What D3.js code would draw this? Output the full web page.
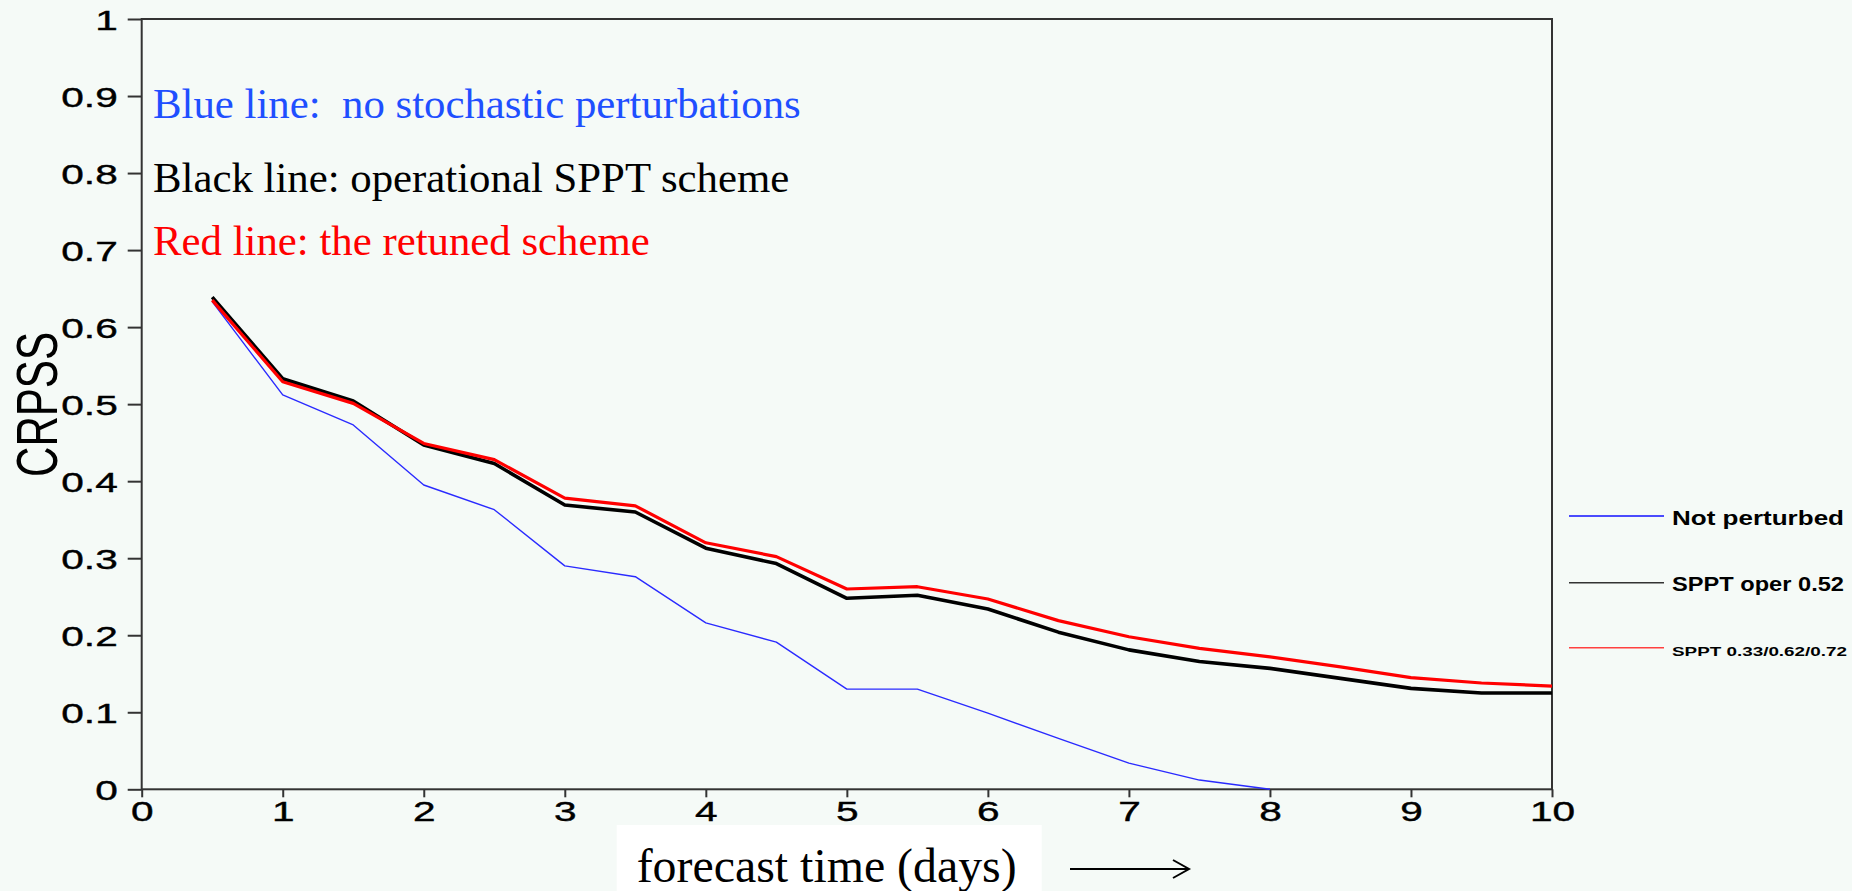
<!DOCTYPE html>
<html>
<head>
<meta charset="utf-8">
<script src="https://cdn.jsdelivr.net/npm/d3@7"></script>
<style>
  html, body { margin: 0; padding: 0; background: #f5faf7; }
  svg { display: block; }
  .tick text { font-family: "Liberation Sans", Arial, sans-serif; }
</style>
</head>
<body>
<script>
// forecast days (every 12h)
var days = [0.5, 1, 1.5, 2, 2.5, 3, 3.5, 4, 4.5, 5, 5.5, 6, 6.5, 7, 7.5, 8, 8.5, 9, 9.5, 10];

var notPerturbed = [0.633, 0.512, 0.473, 0.395, 0.363, 0.290, 0.276, 0.216, 0.191, 0.130,
                    0.130, 0.099, 0.066, 0.034, 0.012, 0.0];
var spptOper = [0.639, 0.533, 0.504, 0.447, 0.423, 0.369, 0.360, 0.313, 0.293, 0.248,
                0.252, 0.234, 0.204, 0.181, 0.166, 0.157, 0.144, 0.131, 0.125, 0.125];
var spptRetuned = [0.635, 0.529, 0.501, 0.449, 0.428, 0.378, 0.368, 0.320, 0.302, 0.260,
                   0.263, 0.247, 0.219, 0.198, 0.183, 0.172, 0.159, 0.145, 0.138, 0.134];

var seriesNames = ["Not perturbed", "SPPT oper 0.52", "SPPT 0.33/0.62/0.72"];
var notes = ["Blue line:  no stochastic perturbations",
             "Black line: operational SPPT scheme",
             "Red line: the retuned scheme"];
var xTicks = [0, 1, 2, 3, 4, 5, 6, 7, 8, 9, 10];
var yTicks = [0, 0.1, 0.2, 0.3, 0.4, 0.5, 0.6, 0.7, 0.8, 0.9, 1];

var canvas = {w: 1852, h: 891};

var svg = d3.select("body").append("svg")
    .attr("width", canvas.w)
    .attr("height", canvas.h);

svg.append("rect")
    .attr("width", canvas.w).attr("height", canvas.h)
    .attr("fill", "#f5faf7");

var x = d3.scaleLinear().domain([0, 10]).range([141.7, 1552]),
    y = d3.scaleLinear().domain([0, 1]).range([789.3, 19]);

// frame round the plot
svg.append("rect")
    .attr("x", x(0)).attr("y", y(1))
    .attr("width", x(10) - x(0)).attr("height", y(0) - y(1))
    .attr("fill", "none")
    .attr("stroke", "#333")
    .attr("stroke-width", 2);

// the tick labels are drawn wide in the original, stretch them
var stretch = 1.45;

var yAxis = svg.append("g")
    .attr("transform", "translate(" + x(0) + ",0)")
    .call(d3.axisLeft(y).tickValues(yTicks).tickSize(14).tickPadding(10)
          .tickFormat(function(d) { return d === 0 || d === 1 ? d3.format("d")(d) : d3.format(".1f")(d); }));
yAxis.select(".domain").remove();
yAxis.selectAll(".tick line").attr("stroke", "#333").attr("stroke-width", 2);
yAxis.selectAll(".tick text")
    .attr("font-size", 28)
    .attr("fill", "#000")
    .attr("stroke", "#000").attr("stroke-width", 0.4)
    .attr("dy", "0.36em")
    .attr("x", -24 / stretch)
    .attr("transform", "scale(" + stretch + ",1)");

var xAxis = svg.append("g")
    .attr("transform", "translate(0," + y(0) + ")")
    .call(d3.axisBottom(x).tickValues(xTicks).tickSize(8).tickPadding(4).tickFormat(d3.format("d")));
xAxis.select(".domain").remove();
xAxis.selectAll(".tick line").attr("stroke", "#333").attr("stroke-width", 2);
// text sits at x=0 inside each tick group, so scaling keeps it centred
xAxis.selectAll(".tick text")
    .attr("font-size", 28)
    .attr("fill", "#000")
    .attr("stroke", "#000").attr("stroke-width", 0.4)
    .attr("transform", "scale(" + stretch + ",1)");

// y axis title
svg.append("text")
    .attr("transform", "translate(57,404.5) rotate(-90)")
    .attr("text-anchor", "middle")
    .attr("font-family", "Liberation Sans, Arial, sans-serif")
    .attr("font-size", 58)
    .attr("textLength", 145)
    .attr("lengthAdjust", "spacingAndGlyphs")
    .text("CRPSS");

// lines
var line = d3.line()
    .x(function(d) { return x(d.day); })
    .y(function(d) { return y(d.v); });

function pairs(vals) {
    return vals.map(function(v, i) { return {day: days[i], v: v}; });
}

var series = [
    {name: seriesNames[0], values: pairs(notPerturbed), color: "#2a2aff", width: 1.4},
    {name: seriesNames[1], values: pairs(spptOper), color: "#000", width: 3.6},
    {name: seriesNames[2], values: pairs(spptRetuned), color: "#ff0000", width: 3.2}
];

svg.selectAll(".series")
    .data(series)
    .enter().append("path")
    .attr("class", "series")
    .attr("fill", "none")
    .attr("stroke", function(d) { return d.color; })
    .attr("stroke-width", function(d) { return d.width; })
    .attr("stroke-linejoin", "round")
    .attr("d", function(d) { return line(d.values); });

// annotation in the plot
var noteColors = ["#1f4fff", "#000", "#ff0000"],
    noteBase = [118.3, 191.7, 255];
svg.selectAll(".note")
    .data(notes)
    .enter().append("text")
    .attr("class", "note")
    .attr("x", 153)
    .attr("y", function(d, i) { return noteBase[i]; })
    .attr("fill", function(d, i) { return noteColors[i]; })
    .attr("font-family", "Liberation Serif, Times New Roman, serif")
    .attr("font-size", 42.8)
    .style("white-space", "pre")
    .text(function(d) { return d; });

// legend on the right
var legColors = ["#1010ff", "#333", "#ff4040"],
    legY = [516, 582.7, 647.7],
    legSize = [20, 20, 13.5],
    legLen = [172, 172, 175],
    legBase = [524.7, 591.3, 655.7];
var leg = svg.selectAll(".leg")
    .data(seriesNames)
    .enter().append("g")
    .attr("class", "leg");
leg.append("line")
    .attr("x1", 1569).attr("x2", 1664)
    .attr("y1", function(d, i) { return legY[i]; })
    .attr("y2", function(d, i) { return legY[i]; })
    .attr("stroke", function(d, i) { return legColors[i]; })
    .attr("stroke-width", 1.6);
leg.append("text")
    .attr("x", 1672)
    .attr("y", function(d, i) { return legBase[i]; })
    .attr("font-family", "Liberation Sans, Arial, sans-serif")
    .attr("font-weight", "bold")
    .attr("font-size", function(d, i) { return legSize[i]; })
    .attr("textLength", function(d, i) { return legLen[i]; })
    .attr("lengthAdjust", "spacingAndGlyphs")
    .text(function(d) { return d; });

// x axis title on a white patch, with an arrow
svg.append("rect")
    .attr("x", 616.7).attr("y", 825)
    .attr("width", 1041.7 - 616.7).attr("height", canvas.h - 825)
    .attr("fill", "#fff");
svg.append("text")
    .attr("x", 636.7).attr("y", 881.7)
    .attr("font-family", "Liberation Serif, Times New Roman, serif")
    .attr("font-size", 48)
    .attr("textLength", 380)
    .attr("lengthAdjust", "spacingAndGlyphs")
    .text("forecast time (days)");
svg.append("path")
    .attr("d", "M1070,869H1189M1173,860L1189,869L1173,878")
    .attr("fill", "none")
    .attr("stroke", "#000")
    .attr("stroke-width", 2);
</script>
</body>
</html>
